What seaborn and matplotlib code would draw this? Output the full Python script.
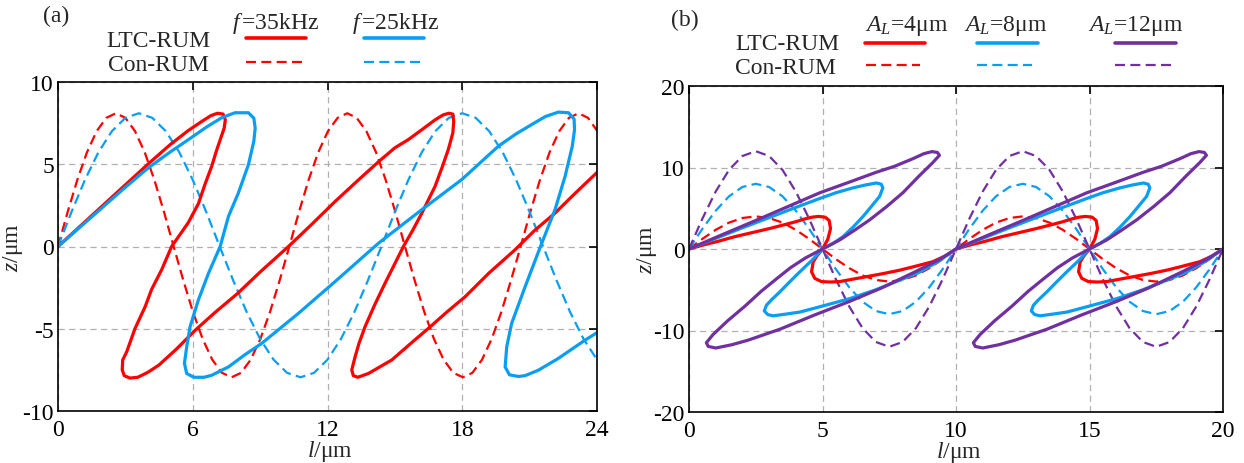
import matplotlib
matplotlib.use("Agg")
import matplotlib.pyplot as plt
import seaborn as sns
from matplotlib.lines import Line2D

# ---------------- data: panel (a) ----------------
A_XTICKS = [0, 6, 12, 18, 24]
A_YTICKS = [-10, -5, 0, 5, 10]

RED35_LTC_L = [0.00, 1.00, 2.00, 3.00, 4.00, 5.00, 5.80, 6.40, 6.80, 7.10, 7.35, 7.45, 7.40, 7.25,
               7.05, 6.85, 6.55, 6.25, 5.80, 5.06, 4.62, 4.17, 3.88, 3.43, 3.06, 2.88, 2.86, 2.95,
               3.20, 3.55, 4.00, 4.50, 5.30, 6.10, 7.00, 8.00, 9.00, 10.26, 11.30, 12.34, 13.30,
               14.27, 15.00, 15.60, 16.20, 16.79, 17.15, 17.40, 17.58, 17.62, 17.58, 17.38, 17.10,
               16.79, 16.20, 15.80, 15.38, 14.56, 14.10, 13.67, 13.40, 13.23, 13.08, 13.15, 13.35,
               13.82, 14.86, 15.70, 16.49, 17.30, 18.13, 19.20, 20.35, 21.20, 22.13, 23.00, 24.00]
RED35_LTC_Z = [0.00, 1.25, 2.50, 3.75, 5.00, 6.20, 7.05, 7.60, 7.95, 8.10, 8.05, 7.70, 7.20, 6.60,
               5.80, 4.90, 3.80, 2.60, 1.45, 0.00, -1.40, -2.60, -3.66, -4.98, -6.40, -6.90, -7.50,
               -7.85, -8.00, -7.95, -7.65, -7.20, -6.20, -5.10, -4.00, -2.85, -1.55, 0.00, 1.35,
               2.74, 3.95, 5.15, 6.00, 6.50, 7.10, 7.70, 8.00, 8.10, 8.05, 7.60, 6.90, 5.90, 4.80,
               3.66, 2.03, 1.00, 0.00, -2.24, -3.55, -4.88, -5.90, -6.70, -7.50, -7.85, -7.95,
               -7.72, -6.90, -5.90, -4.98, -4.00, -3.05, -1.60, -0.20, 0.95, 2.03, 3.20, 4.50]

BLUE25_LTC_L = [0.00, 1.00, 2.00, 3.00, 4.02, 5.00, 5.81, 6.60, 7.29, 7.88, 8.48, 8.72, 8.78, 8.72,
                8.48, 8.03, 7.59, 7.22, 6.70, 6.25, 5.88, 5.73, 5.63, 5.73, 6.05, 6.50, 6.84, 7.59,
                8.30, 9.07, 10.70, 12.34, 14.27, 16.20, 17.98, 19.61, 20.40, 21.10, 21.70, 22.28,
                22.73, 22.98, 23.00, 22.90, 22.58, 22.13, 21.54, 20.80, 20.20, 19.98, 19.91, 20.10,
                20.50, 20.80, 21.39, 22.28, 23.47, 24.00]
BLUE25_LTC_Z = [0.00, 1.20, 2.40, 3.60, 4.78, 5.75, 6.50, 7.25, 7.83, 8.13, 8.13, 7.80, 7.20, 6.40,
                4.98, 3.25, 1.83, 0.00, -1.63, -3.25, -4.88, -6.10, -7.10, -7.72, -7.95, -7.95,
                -7.83, -7.32, -6.60, -5.89, -4.07, -2.13, 0.20, 2.24, 4.07, 6.10, 6.85, 7.42, 7.90,
                8.17, 8.13, 7.75, 7.10, 6.10, 4.27, 2.24, 0.20, -2.44, -4.67, -6.10, -7.32, -7.80,
                -7.90, -7.85, -7.52, -6.80, -5.69, -5.24]

RED35_CON_L = [0.00, 0.43, 0.86, 1.29, 1.72, 2.15, 2.58, 3.00, 3.43, 3.86, 4.29, 4.72, 5.15, 5.58,
               6.01, 6.44, 6.87, 7.30, 7.73, 8.15, 8.58, 9.01, 9.44, 9.87, 10.30, 10.73, 11.16,
               11.59, 12.02, 12.45, 12.88, 13.30, 13.73, 14.16, 14.59, 15.02, 15.45, 15.88, 16.31,
               16.74, 17.17, 17.60, 18.03, 18.45, 18.88, 19.31, 19.74, 20.17, 20.60, 21.03, 21.46,
               21.89, 22.32, 22.75, 23.18, 23.60, 24.00]
RED35_CON_Z = [0.00, 2.10, 4.05, 5.73, 7.01, 7.82, 8.10, 7.82, 7.01, 5.73, 4.05, 2.10, 0.00, -2.06,
               -3.98, -5.62, -6.88, -7.68, -7.95, -7.68, -6.88, -5.62, -3.98, -2.06,
               0.00, 2.10, 4.05, 5.73, 7.01, 7.82, 8.10, 7.82, 7.01, 5.73, 4.05, 2.10, 0.00, -2.06,
               -3.98, -5.62, -6.88, -7.68, -7.95, -7.68, -6.88, -5.62, -3.98, -2.06,
               0.00, 2.10, 4.05, 5.73, 7.01, 7.82, 8.10, 7.82, 7.05]

BLUE25_CON_L = [0.0, 0.6, 1.2, 1.8, 2.4, 3.0, 3.6, 4.2, 4.8, 5.4, 6.0, 6.6, 7.2, 7.8, 8.4, 9.0,
                9.6, 10.2, 10.8, 11.4, 12.0, 12.6, 13.2, 13.8, 14.4, 15.0, 15.6, 16.2, 16.8, 17.4,
                18.0, 18.6, 19.2, 19.8, 20.4, 21.0, 21.6, 22.2, 22.8, 23.4, 24.0]
BLUE25_CON_Z = [0.00, 2.10, 4.05, 5.73, 7.01, 7.82, 8.10, 7.82, 7.01, 5.73, 4.05, 2.10, 0.00, -2.06,
                -3.98, -5.62, -6.88, -7.68, -7.95, -7.68, -6.88, -5.62, -3.98, -2.06,
                0.00, 2.10, 4.05, 5.73, 7.01, 7.82, 8.10, 7.82, 7.01, 5.73, 4.05, 2.10, 0.00, -2.06,
                -3.98, -5.62, -6.88]

# ---------------- data: panel (b) ----------------
B_XTICKS = [0, 5, 10, 15, 20]
B_YTICKS = [-20, -10, 0, 10, 20]

RED4_LTC_L = [0.00, 0.60, 1.10, 1.70, 2.35, 3.00, 3.60, 4.00, 4.35, 4.60, 4.85, 5.10, 5.25, 5.30,
              5.20, 5.00, 4.78, 4.65, 4.59, 4.71, 4.96, 5.30, 5.64, 6.64, 7.30, 7.89, 8.50, 9.13,
              9.60, 10.00, 10.60, 11.10, 11.70, 12.35, 13.00, 13.60, 14.00, 14.35, 14.60, 14.85,
              15.10, 15.25, 15.30, 15.20, 15.00, 14.78, 14.65, 14.59, 14.71, 14.96, 15.30, 15.64,
              16.64, 17.30, 17.89, 18.50, 19.13, 19.60, 20.00]
RED4_LTC_Z = [0.00, 0.55, 0.95, 1.50, 2.00, 2.50, 3.00, 3.35, 3.70, 3.90, 4.00, 3.90, 3.50, 2.50,
              1.20, 0.00, -0.90, -1.60, -2.80, -3.60, -4.00, -4.05, -4.00, -3.40, -3.00, -2.60,
              -2.10, -1.56, -0.85, 0.00, 0.55, 0.95, 1.50, 2.00, 2.50, 3.00, 3.35, 3.70, 3.90,
              4.00, 3.90, 3.50, 2.50, 1.20, 0.00, -0.90, -1.60, -2.80, -3.60, -4.00, -4.05, -4.00,
              -3.40, -3.00, -2.60, -2.10, -1.56, -0.85, 0.00]

BLUE8_LTC_L = [0.00, 1.00, 2.00, 3.00, 4.00, 4.90, 5.50, 6.14, 6.60, 7.02, 7.20, 7.26, 7.14, 6.85,
               6.52, 6.15, 5.77, 5.40, 5.00, 4.60, 4.15, 3.75, 3.40, 3.10, 2.90, 2.82, 2.95, 3.15,
               3.60, 4.15, 5.00, 6.02, 7.00, 7.89, 8.60, 9.30, 10.00, 11.00, 12.00, 13.00, 14.00,
               14.90, 15.50, 16.14, 16.60, 17.02, 17.20, 17.26, 17.14, 16.85, 16.52, 16.15, 15.77,
               15.40, 15.00, 14.60, 14.15, 13.75, 13.40, 13.10, 12.90, 12.82, 12.95, 13.15, 13.60,
               14.15, 15.00, 16.02, 17.00, 17.89, 18.60, 19.30, 20.00]
BLUE8_LTC_Z = [0.00, 1.30, 2.60, 3.85, 5.10, 6.20, 6.90, 7.50, 7.85, 8.10, 7.95, 7.50, 6.46, 5.30,
               4.00, 2.70, 1.52, 0.70, 0.00, -1.40, -2.80, -4.10, -5.27, -6.20, -6.90, -7.60, -8.05,
               -8.20, -8.00, -7.74, -7.00, -6.09, -5.00, -3.83, -2.90, -1.60, 0.00, 1.30, 2.60,
               3.85, 5.10, 6.20, 6.90, 7.50, 7.85, 8.10, 7.95, 7.50, 6.46, 5.30, 4.00, 2.70, 1.52,
               0.70, 0.00, -1.40, -2.80, -4.10, -5.27, -6.20, -6.90, -7.60, -8.05, -8.20, -8.00,
               -7.74, -7.00, -6.09, -5.00, -3.83, -2.90, -1.60, 0.00]

PURPLE12_LTC_L = [0.00, 1.20, 2.50, 3.70, 4.90, 6.00, 7.00, 7.70, 8.40, 8.80, 9.10, 9.30, 9.38,
                  9.13, 8.60, 8.01, 7.40, 6.77, 6.20, 5.64, 5.00, 4.36, 3.80, 3.30, 2.70, 2.10,
                  1.45, 0.90, 0.65, 0.72, 1.00, 1.60, 2.20, 3.40, 4.70, 6.00, 7.20, 8.50, 9.40,
                  10.00, 11.20, 12.50, 13.70, 14.90, 16.00, 17.00, 17.70, 18.40, 18.80, 19.10,
                  19.30, 19.38, 19.13, 18.60, 18.01, 17.40, 16.77, 16.20, 15.64, 15.00, 14.36,
                  13.80, 13.30, 12.70, 12.10, 11.45, 10.90, 10.65, 10.72, 11.00, 11.60, 12.20,
                  13.40, 14.70, 16.00, 17.20, 18.50, 19.40, 20.00]
PURPLE12_LTC_Z = [0.00, 1.70, 3.50, 5.20, 6.90, 8.20, 9.40, 10.15, 11.10, 11.70, 11.95, 11.85,
                  11.50, 10.60, 8.90, 6.90, 5.20, 3.58, 2.30, 1.10, 0.00, -1.10, -2.30, -3.60,
                  -5.20, -7.00, -8.80, -10.50, -11.50, -11.95, -12.15, -11.75, -11.20, -9.85,
                  -8.10, -6.45, -4.80, -2.75, -1.25, 0.00, 1.70, 3.50, 5.20, 6.90, 8.20, 9.40,
                  10.15, 11.10, 11.70, 11.95, 11.85, 11.50, 10.60, 8.90, 6.90, 5.20, 3.58, 2.30,
                  1.10, 0.00, -1.10, -2.30, -3.60, -5.20, -7.00, -8.80, -10.50, -11.50, -11.95,
                  -12.15, -11.75, -11.20, -9.85, -8.10, -6.45, -4.80, -2.75, -1.25, 0.00]

CON_B_L = [0.0, 0.5, 1.0, 1.5, 2.0, 2.5, 3.0, 3.5, 4.0, 4.5, 5.0, 5.5, 6.0, 6.5, 7.0, 7.5, 8.0,
           8.5, 9.0, 9.5, 10.0, 10.5, 11.0, 11.5, 12.0, 12.5, 13.0, 13.5, 14.0, 14.5, 15.0, 15.5,
           16.0, 16.5, 17.0, 17.5, 18.0, 18.5, 19.0, 19.5, 20.0]
RED4_CON_Z = [0.00, 1.24, 2.35, 3.24, 3.80, 4.00, 3.80, 3.24, 2.35, 1.24, 0.00, -1.24, -2.35,
              -3.24, -3.80, -4.00, -3.80, -3.24, -2.35, -1.24,
              0.00, 1.24, 2.35, 3.24, 3.80, 4.00, 3.80, 3.24, 2.35, 1.24, 0.00, -1.24, -2.35,
              -3.24, -3.80, -4.00, -3.80, -3.24, -2.35, -1.24, 0.00]
BLUE8_CON_Z = [0.00, 2.47, 4.70, 6.47, 7.61, 8.00, 7.61, 6.47, 4.70, 2.47, 0.00, -2.47, -4.70,
               -6.47, -7.61, -8.00, -7.61, -6.47, -4.70, -2.47,
               0.00, 2.47, 4.70, 6.47, 7.61, 8.00, 7.61, 6.47, 4.70, 2.47, 0.00, -2.47, -4.70,
               -6.47, -7.61, -8.00, -7.61, -6.47, -4.70, -2.47, 0.00]
PURPLE12_CON_Z = [0.00, 3.71, 7.05, 9.71, 11.41, 12.00, 11.41, 9.71, 7.05, 3.71, 0.00, -3.71,
                  -7.05, -9.71, -11.41, -12.00, -11.41, -9.71, -7.05, -3.71,
                  0.00, 3.71, 7.05, 9.71, 11.41, 12.00, 11.41, 9.71, 7.05, 3.71, 0.00, -3.71,
                  -7.05, -9.71, -11.41, -12.00, -11.41, -9.71, -7.05, -3.71, 0.00]

# ---------------- style ----------------
RED = "#FF0000"
BLUE = "#0A9EF2"
PURPLE = "#7030A0"
GRID = "#B0B0B0"
FS = 17
LW_SOLID = 2.3
LW_DASH = 1.6
DASH = (0, (4.5, 2.4))

sns.set_theme(style="white")
plt.rcParams["font.family"] = ["Liberation Serif", "DejaVu Serif"]
plt.rcParams["mathtext.fontset"] = "custom"
plt.rcParams["mathtext.rm"] = "Liberation Serif"
plt.rcParams["mathtext.it"] = "Liberation Serif:italic"
plt.rcParams["axes.unicode_minus"] = False

W, H = 1244, 464
fig = plt.figure(figsize=(W / 100, H / 100), dpi=100)
ax_a = fig.add_axes([58 / W, 52 / H, 539 / W, 329 / H])
ax_b = fig.add_axes([689 / W, 51 / H, 534 / W, 326 / H])


def draw(ax, l, z, color, dashed=False):
    if dashed:
        sns.lineplot(x=l, y=z, ax=ax, sort=False, estimator=None, color=color,
                     linewidth=LW_DASH, linestyle=DASH)
    else:
        sns.lineplot(x=l, y=z, ax=ax, sort=False, estimator=None, color=color,
                     linewidth=LW_SOLID, solid_capstyle="round", solid_joinstyle="round")


def style_axes(ax, xticks, yticks, ylab_x, xlab_y):
    ax.set_xlim(xticks[0], xticks[-1])
    ax.set_ylim(yticks[0], yticks[-1])
    ax.set_xticks(xticks)
    ax.set_yticks(yticks)
    ax.set_axisbelow(True)
    ax.grid(True, color=GRID, linestyle=(0, (5, 3.5)), linewidth=0.9)
    for s in ax.spines.values():
        s.set_visible(True)
        s.set_color("black")
        s.set_linewidth(1.2)
    ax.tick_params(axis="both", direction="in", length=6, width=1.2, colors="black",
                   top=True, right=True, labelsize=FS)
    ax.tick_params(axis="x", pad=6)
    ax.tick_params(axis="y", pad=3)
    ax.set_xlabel("$l$/\u03bcm", fontsize=FS)
    ax.set_ylabel("$z$/\u03bcm", fontsize=FS)
    ax.yaxis.set_label_coords(ylab_x, 0.5)
    ax.xaxis.set_label_coords(0.505, xlab_y)


# panel (a)
draw(ax_a, RED35_CON_L, RED35_CON_Z, RED, dashed=True)
draw(ax_a, BLUE25_CON_L, BLUE25_CON_Z, BLUE, dashed=True)
draw(ax_a, RED35_LTC_L, RED35_LTC_Z, RED)
draw(ax_a, BLUE25_LTC_L, BLUE25_LTC_Z, BLUE)
style_axes(ax_a, A_XTICKS, A_YTICKS, (25 - 58) / 539, (412 - 439) / 329)

# panel (b)
draw(ax_b, CON_B_L, RED4_CON_Z, RED, dashed=True)
draw(ax_b, CON_B_L, BLUE8_CON_Z, BLUE, dashed=True)
draw(ax_b, CON_B_L, PURPLE12_CON_Z, PURPLE, dashed=True)
draw(ax_b, RED4_LTC_L, RED4_LTC_Z, RED)
draw(ax_b, BLUE8_LTC_L, BLUE8_LTC_Z, BLUE)
draw(ax_b, PURPLE12_LTC_L, PURPLE12_LTC_Z, PURPLE)
style_axes(ax_b, B_XTICKS, B_YTICKS, (659 - 689) / 534, (413 - 440) / 326)


# ---------------- legends (drawn in figure pixels) ----------------
def ftext(x, y, s, ha="left"):
    fig.text(x / W, 1 - y / H, s, ha=ha, va="baseline", fontsize=FS)


def fline(x0, x1, y, color, dashed):
    if dashed:
        ln = Line2D([x0 / W, x1 / W], [1 - y / H, 1 - y / H], transform=fig.transFigure,
                    color=color, linewidth=LW_DASH, linestyle=DASH)
    else:
        ln = Line2D([x0 / W, x1 / W], [1 - y / H, 1 - y / H], transform=fig.transFigure,
                    color=color, linewidth=2.6, solid_capstyle="round")
    fig.add_artist(ln)


ftext(43, 22, "(a)")
ftext(232, 29, "$f\\,$=35kHz")
ftext(352, 29, "$f\\,$=25kHz")
ftext(210, 47, "LTC-RUM", ha="right")
ftext(209, 71, "Con-RUM", ha="right")
fline(246, 306, 39, RED, False)
fline(246, 302, 63, RED, True)
fline(364, 424, 39, BLUE, False)
fline(364, 420, 63, BLUE, True)

ftext(671, 26, "(b)")
ftext(865, 31, "$A_L$=4\u03bcm")
ftext(964, 31, "$A_L$=8\u03bcm")
ftext(1088, 31, "$A_L$=12\u03bcm")
ftext(839, 50, "LTC-RUM", ha="right")
ftext(836, 74, "Con-RUM", ha="right")
fline(865, 925, 44, RED, False)
fline(866, 920, 66, RED, True)
fline(977, 1038, 44, BLUE, False)
fline(977, 1032, 66, BLUE, True)
fline(1115, 1176, 44, PURPLE, False)
fline(1115, 1172, 66, PURPLE, True)

fig.savefig("out.png", dpi=100)
